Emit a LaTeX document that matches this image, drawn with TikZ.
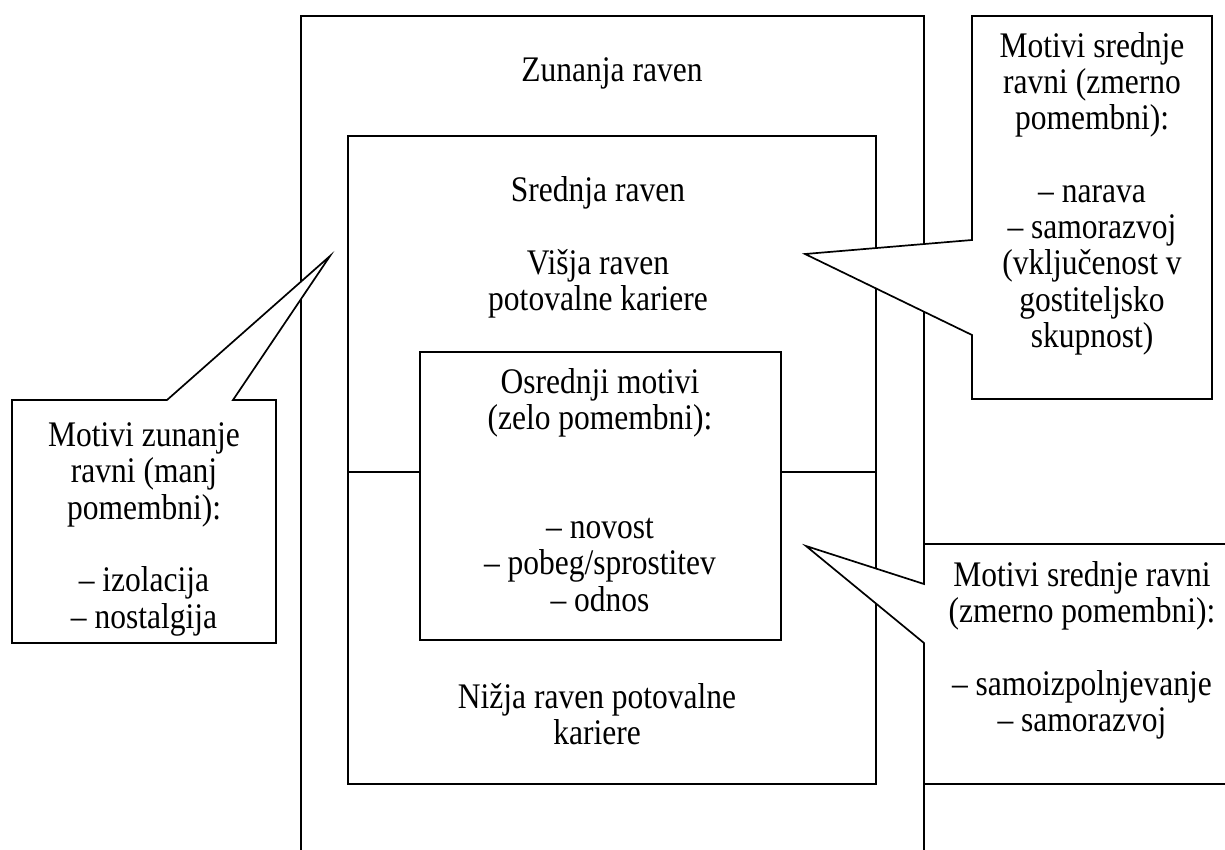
\documentclass[tikz,border=0pt]{standalone}
\usepackage{fontspec}
\setmainfont{Liberation Serif}[FakeStretch=0.875]
\begin{document}
\begin{tikzpicture}[x=1pt,y=-1pt,
  frame/.style={draw=black, line width=1.7pt},
  callout/.style={draw=black, fill=white, line width=1.7pt, line join=miter},
  txt/.style={align=center, inner sep=0pt, font=\fontsize{36}{36.3}\selectfont}]
\useasboundingbox (0,0) rectangle (1225,849);
\clip (0,0) rectangle (1225,849);
% outer level (open at bottom)
\draw[frame] (301,880) -- (301,16) -- (924,16) -- (924,880);
% middle level
\draw[frame] (348,136) rectangle (876,784);
% inner box
\draw[frame] (420,352) rectangle (781,640);
\coordinate (hl1) at (348,472); \coordinate (hl2) at (420,472);
\coordinate (hr1) at (781,472); \coordinate (hr2) at (876,472);
\draw[frame] (hl1) -- (hl2);
\draw[frame] (hr1) -- (hr2);
% callouts
\draw[callout] (167,400) -- (330,256) -- (233,400) -- (276,400) -- (276,643) -- (12,643) -- (12,400) -- cycle;
\draw[callout] (972,240) -- (805,254) -- (972,335) -- (972,399) -- (1212,399) -- (1212,16) -- (972,16) -- cycle;
\draw[callout] (1240,544) -- (924,544) -- (924,584) -- (806,546) -- (924,643) -- (924,784) -- (1240,784);
% texts
\node[txt] (tz) at (612,74) {\strut Zunanja raven};
\node[txt] (ts) at (598,249) {\strut Srednja raven\\ \strut\\ \strut Višja raven\\ \strut potovalne kariere};
\node[txt] (ti) at (600,495) {\strut Osrednji motivi\\ \strut (zelo pomembni):\\ \strut\\ \strut\\ \strut – novost\\ \strut – pobeg/sprostitev\\ \strut – odnos};
\node[txt] (tn) at (597,719) {\strut Nižja raven potovalne\\ \strut kariere};
\node[txt] (tl) at (144,530) {\strut Motivi zunanje\\ \strut ravni (manj\\ \strut pomembni):\\ \strut\\ \strut – izolacija\\ \strut – nostalgija};
\node[txt] (ttr) at (1092,195) {\strut Motivi srednje\\ \strut ravni (zmerno\\ \strut pomembni):\\ \strut\\ \strut – narava\\ \strut – samorazvoj\\ \strut (vključenost v\\ \strut gostiteljsko\\ \strut skupnost)};
\node[txt] (tbr) at (1082,652) {\strut Motivi srednje ravni\\ \strut (zmerno pomembni):\\ \strut\\ \strut – samoizpolnjevanje\\ \strut – samorazvoj};
\end{tikzpicture}
\end{document}
